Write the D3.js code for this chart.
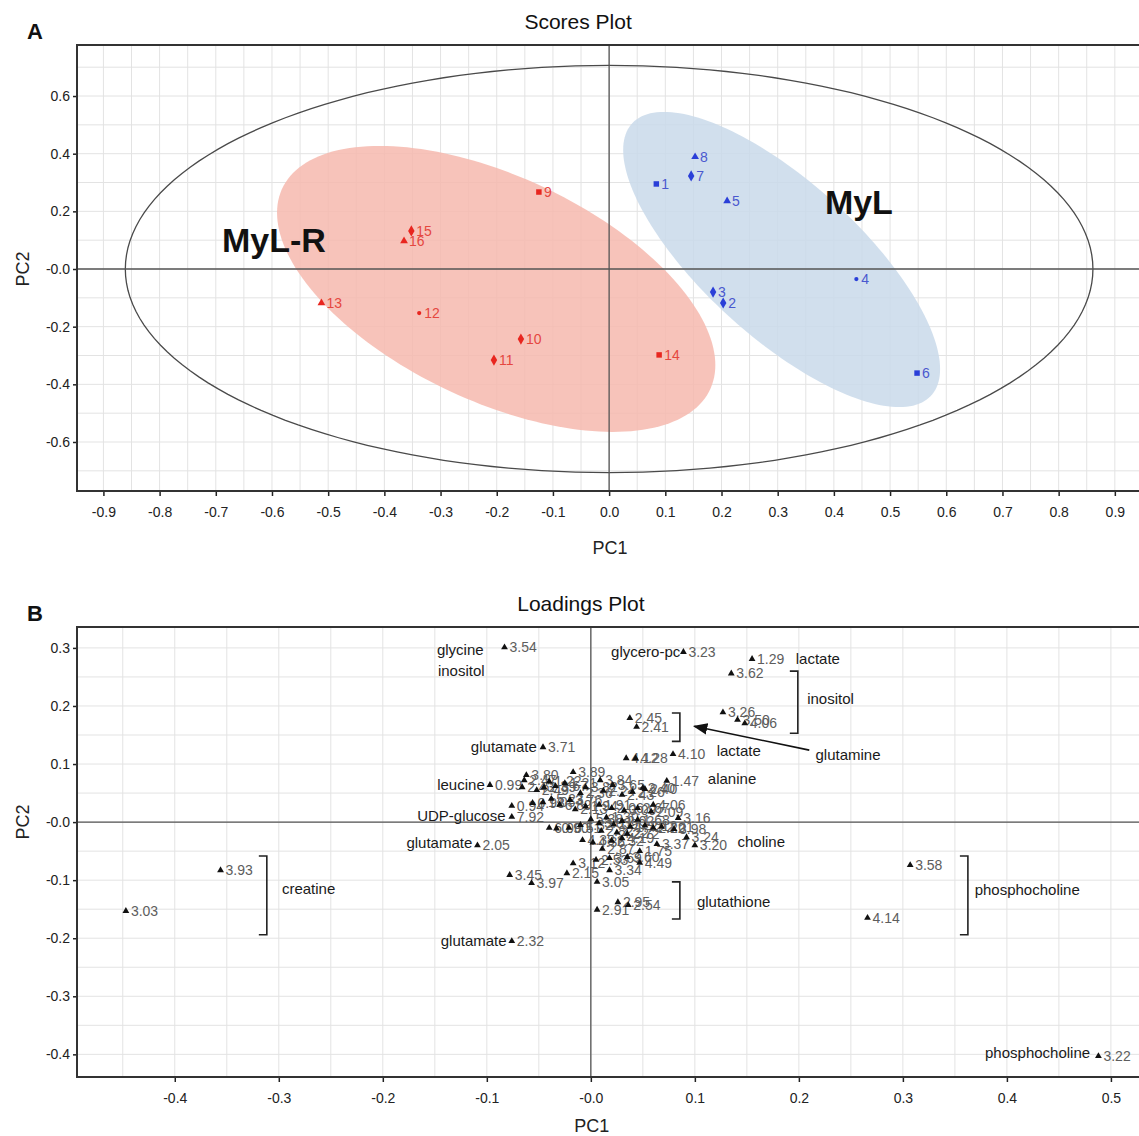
<!DOCTYPE html>
<html>
<head>
<meta charset="utf-8">
<script src="https://cdn.jsdelivr.net/npm/d3@7"></script>
<style>
  body { margin: 0; background: #fff; }
  text { font-family: "Liberation Sans", Arial, sans-serif; }
</style>
</head>
<body>
<svg id="chart" width="1139" height="1136"></svg>
<script>
// ---- scores plot data (PC1, PC2) ----
const mylIds    = ["1", "2", "3", "4", "5", "6", "7", "8"];
const mylPC1    = [0.084, 0.203, 0.185, 0.440, 0.210, 0.548, 0.146, 0.153];
const mylPC2    = [0.295, -0.118, -0.080, -0.035, 0.236, -0.361, 0.323, 0.389];
const mylShapes = ["square", "diamond", "diamond", "circle", "triangle", "square", "diamond", "triangle"];

const mylrIds    = ["9", "10", "11", "12", "13", "14", "15", "16"];
const mylrPC1    = [-0.125, -0.157, -0.205, -0.338, -0.512, 0.089, -0.352, -0.365];
const mylrPC2    = [0.267, -0.243, -0.316, -0.153, -0.118, -0.298, 0.132, 0.097];
const mylrShapes = ["square", "diamond", "diamond", "circle", "triangle", "square", "diamond", "triangle"];

// ellipses: centre PC1, centre PC2, half width, half height, correlation
const hotellingEllipse = [0, 0, 0.861, 0.706, 0];
const mylEllipse  = [0.307, 0.033, 0.282, 0.512, -0.742];
const mylrEllipse = [-0.201, -0.069, 0.390, 0.496, -0.532];

// group names: PC1, PC2, text
const groupNames = [[-0.689, 0.059, "MyL-R"], [0.384, 0.191, "MyL"]];

const scoreXTicks = [-0.9, -0.8, -0.7, -0.6, -0.5, -0.4, -0.3, -0.2, -0.1, 0, 0.1, 0.2, 0.3, 0.4, 0.5, 0.6, 0.7, 0.8, 0.9];
const scoreYTicks = [-0.6, -0.4, -0.2, 0, 0.2, 0.4, 0.6];

// ---- loadings plot data: PC1, PC2, ppm label ----
const loadings = [
  [-0.447, -0.153, "3.03"], [-0.356, -0.083, "3.93"],
  [-0.083, 0.301, "3.54"], [0.089, 0.293, "3.23"], [0.155, 0.281, "1.29"],
  [0.135, 0.256, "3.62"], [0.127, 0.189, "3.26"], [0.141, 0.176, "3.50"], [0.148, 0.170, "4.06"],
  [0.0375, 0.179, "2.45"], [0.044, 0.164, "2.41"],
  [0.034, 0.110, "4.12"], [0.043, 0.110, "4.28"], [0.079, 0.117, "4.10"],
  [-0.046, 0.129, "3.71"], [0.073, 0.071, "1.47"], [-0.097, 0.064, "0.99"],
  [-0.109, -0.040, "2.05"], [-0.076, -0.205, "2.32"],
  [0.307, -0.074, "3.58"], [0.266, -0.165, "4.14"], [0.488, -0.403, "3.22"],
  [-0.078, -0.091, "3.45"], [-0.057, -0.105, "3.97"], [-0.023, -0.088, "2.15"],
  [-0.017, -0.071, "3.12"], [0.006, -0.103, "3.05"], [0.018, -0.083, "3.34"],
  [0.006, -0.151, "2.91"], [0.026, -0.138, "2.95"], [0.036, -0.143, "2.54"],
  [0.005, -0.065, "2.53"], [0.018, -0.062, "3.69"], [0.035, -0.060, "3.60"], [0.047, -0.070, "4.49"],
  // dense centre
  [-0.062, 0.081, "3.80"], [-0.064, 0.072, "2.47"], [-0.066, 0.060, "2.43"], [-0.052, 0.055, "2.49"],
  [-0.040, 0.070, "1.22"], [-0.045, 0.060, "2.39"], [-0.034, 0.062, "3.67"], [-0.017, 0.086, "3.89"],
  [-0.025, 0.067, "1.21"], [0.009, 0.072, "3.84"], [0.021, 0.064, "3.65"], [0.050, 0.059, "2.40"],
  [0.052, 0.057, "2.40"], [0.040, 0.052, "2.26"], [0.030, 0.047, "2.43"], [0.012, 0.054, "2.24"],
  [-0.005, 0.060, "3.82"], [-0.010, 0.050, "2.36"],
  [-0.076, 0.028, "0.94"], [-0.076, 0.009, "7.92"], [-0.056, 0.033, "0.98"], [-0.046, 0.034, "1.05"],
  [-0.038, 0.040, "5.23"], [-0.030, 0.030, "6.89"], [-0.020, 0.038, "3.76"], [-0.015, 0.022, "2.13"],
  [-0.005, 0.027, "1.94"], [0.008, 0.030, "1.91"], [0.020, 0.024, "2.06"], [0.032, 0.020, "3.09"],
  [0.045, 0.024, "2.67"], [0.058, 0.018, "2.09"], [0.060, 0.030, "4.06"], [0.084, 0.007, "3.16"],
  [-0.040, -0.010, "6.09"], [-0.033, -0.011, "0.90"], [-0.021, -0.010, "6.51"], [-0.010, -0.005, "1.32"],
  [0.000, 0.005, "5.38"], [0.008, -0.002, "3.03"], [0.015, 0.008, "1.30"], [0.022, -0.004, "1.90"],
  [0.030, 0.002, "2.02"], [0.038, -0.008, "1.72"], [0.045, 0.004, "1.68"], [0.052, -0.006, "2.12"],
  [0.060, -0.010, "2.22"], [0.068, -0.008, "2.01"], [0.080, -0.012, "3.98"],
  [0.010, -0.015, "2.82"], [0.025, -0.018, "4.22"], [0.035, -0.020, "2.72"],
  [-0.008, -0.031, "4.38"], [0.011, -0.046, "2.87"], [0.047, -0.050, "1.75"], [0.0635, -0.038, "3.37"],
  [0.092, -0.026, "3.24"], [0.100, -0.040, "3.20"], [0.002, -0.035, "4.36"], [0.020, -0.032, "2.32"],
  [0.030, -0.028, "4.19"]
];

// metabolite names: PC1, PC2 of text baseline, text, anchor
const metaboliteNames = [
  [-0.148, 0.287, "glycine", "start"], [-0.147, 0.251, "inositol", "start"],
  [0.086, 0.284, "glycero-pc", "end"], [0.197, 0.272, "lactate", "start"],
  [0.208, 0.203, "inositol", "start"], [-0.052, 0.120, "glutamate", "end"],
  [0.121, 0.114, "lactate", "start"], [0.216, 0.107, "glutamine", "start"],
  [-0.102, 0.055, "leucine", "end"], [0.1125, 0.065, "alanine", "start"],
  [-0.082, 0.002, "UDP-glucose", "end"], [-0.114, -0.045, "glutamate", "end"],
  [0.141, -0.043, "choline", "start"], [-0.297, -0.124, "creatine", "start"],
  [0.102, -0.146, "glutathione", "start"], [0.369, -0.126, "phosphocholine", "start"],
  [-0.081, -0.213, "glutamate", "end"], [0.480, -0.406, "phosphocholine", "end"]
];

// brackets: PC1, top PC2, bottom PC2
const brackets = [
  [0.199, 0.260, 0.153], [0.0856, 0.188, 0.139], [0.0856, -0.103, -0.167],
  [-0.3115, -0.0585, -0.194], [0.3625, -0.0585, -0.194]
];
const glutamineArrow = [[0.210, 0.124], [0.0995, 0.165]];

const loadXTicks = [-0.4, -0.3, -0.2, -0.1, 0, 0.1, 0.2, 0.3, 0.4, 0.5];
const loadYTicks = [-0.4, -0.3, -0.2, -0.1, 0, 0.1, 0.2, 0.3];

// ---------------------------------------------------------------
const svg = d3.select("#chart");
const fmt = zeroText => v => Math.abs(v) < 1e-9 ? zeroText : (v < 0 ? "-" : "") + Math.abs(v).toFixed(1);
const steps = (a, b, s) => d3.range(Math.round(a / s), Math.round(b / s) + 1).map(i => +(i * s).toFixed(3));

svg.append("defs").append("marker")
  .attr("id", "arrowhead").attr("viewBox", "0 0 10 10")
  .attr("refX", 9).attr("refY", 5)
  .attr("markerWidth", 9).attr("markerHeight", 9)
  .attr("orient", "auto")
  .append("path").attr("d", "M0,1 L10,5 L0,9 Z").attr("fill", "#111");

const drawPanel = (x, y, o) => {
  const g = svg.append("g");
  const [x0, x1] = x.range();
  const [y1, y0] = y.range();

  // grid
  g.append("g").selectAll("line").data(o.gridX).join("line")
    .attr("x1", d => x(d)).attr("x2", d => x(d)).attr("y1", y0).attr("y2", y1)
    .attr("stroke", "#e3e3e3").attr("stroke-width", 1);
  g.append("g").selectAll("line").data(o.gridY).join("line")
    .attr("y1", d => y(d)).attr("y2", d => y(d)).attr("x1", x0).attr("x2", x1)
    .attr("stroke", "#e3e3e3").attr("stroke-width", 1);

  const layer = g.append("g");

  // crosshair
  g.append("line").attr("x1", x(0)).attr("x2", x(0)).attr("y1", y0).attr("y2", y1)
    .attr("stroke", "#555").attr("stroke-width", 1.3);
  g.append("line").attr("y1", y(0)).attr("y2", y(0)).attr("x1", x0).attr("x2", x1)
    .attr("stroke", "#555").attr("stroke-width", 1.3);

  // axes
  const ax = g.append("g").attr("transform", `translate(0,${y1})`);
  ax.call(d3.axisBottom(x).tickValues(o.gridX).tickSize(5).tickFormat(""));
  ax.call(d3.axisBottom(x).tickValues(o.xTicks).tickSize(5).tickPadding(11).tickFormat(fmt(o.xZero)));
  const ay = g.append("g").attr("transform", `translate(${x0},0)`);
  ay.call(d3.axisLeft(y).tickValues(o.minorY).tickSize(4).tickFormat(""));
  ay.call(d3.axisLeft(y).tickValues(o.yTicks).tickSize(4).tickPadding(3).tickFormat(fmt("-0.0")));
  g.selectAll(".domain").remove();
  g.selectAll(".tick line").attr("stroke", "#222").attr("stroke-width", 1.5);
  g.selectAll(".tick text").attr("font-size", 14).attr("fill", "#222")
    .attr("font-family", '"Liberation Sans", Arial, sans-serif');

  // frame
  g.append("path")
    .attr("d", `M${x1},${y0}H${x0}V${y1}H${x1}`)
    .attr("fill", "none").attr("stroke", "#333").attr("stroke-width", 2);

  // titles
  svg.append("text").attr("x", x(0) + o.titleShift).attr("y", y0 - 16)
    .attr("text-anchor", "middle").attr("font-size", 21).attr("fill", "#111").text(o.title);
  svg.append("text").attr("x", 27).attr("y", y0 - 6)
    .attr("font-size", 22).attr("font-weight", "bold").attr("fill", "#111").text(o.letter);
  svg.append("text").attr("x", x(0) + 1).attr("y", Math.min(y1 + 63, 1132))
    .attr("text-anchor", "middle").attr("font-size", 18).attr("fill", "#222").text("PC1");
  svg.append("text").attr("transform", `translate(29,${y(0)}) rotate(-90)`)
    .attr("text-anchor", "middle").attr("font-size", 18).attr("fill", "#222").text("PC2");
  return layer;
};

// ---------------- A: scores ----------------
const xA = d3.scaleLinear().domain([-0.947, 0.943]).range([77, 1139]);
const yA = d3.scaleLinear().domain([-0.770, 0.777]).range([491, 45]);

const layerA = drawPanel(xA, yA, {
  gridX: steps(-0.9, 0.9, 0.05), gridY: steps(-0.7, 0.7, 0.1), minorY: steps(-0.7, 0.7, 0.1),
  xTicks: scoreXTicks, yTicks: scoreYTicks, xZero: "0.0", title: "Scores Plot", letter: "A", titleShift: -31
});

const ellipsePath = (x, y, e) => {
  const [cx, cy, rx, ry, r] = e;
  const pts = d3.range(0, 361, 2).map(a => {
    const t = a * Math.PI / 180;
    return [cx + rx * Math.cos(t), cy + ry * (r * Math.cos(t) + Math.sqrt(1 - r * r) * Math.sin(t))];
  });
  return d3.line().x(d => x(d[0])).y(d => y(d[1]))(pts) + "Z";
};

layerA.append("path").attr("d", ellipsePath(xA, yA, mylrEllipse))
  .attr("fill", "#f6b8ae").attr("fill-opacity", 0.85);
layerA.append("path").attr("d", ellipsePath(xA, yA, mylEllipse))
  .attr("fill", "#c9d9ea").attr("fill-opacity", 0.85);
layerA.append("path").attr("d", ellipsePath(xA, yA, hotellingEllipse))
  .attr("fill", "none").attr("stroke", "#4a4a4a").attr("stroke-width", 1.3);

const symbolTypes = { square: d3.symbolSquare, diamond: d3.symbolDiamond, circle: d3.symbolCircle, triangle: d3.symbolTriangle };
const symbolSizes = { square: 30, diamond: 36, circle: 14, triangle: 26 };

const pointsA = svg.append("g");
const drawGroup = (ids, pc1, pc2, shapes, markColor, textColor) => {
  const rows = ids.map((id, i) => ({ id, x: pc1[i], y: pc2[i], s: shapes[i] }));
  pointsA.append("g").selectAll("path").data(rows).join("path")
    .attr("transform", d => `translate(${xA(d.x)},${yA(d.y)})`)
    .attr("d", d => d3.symbol().type(symbolTypes[d.s]).size(symbolSizes[d.s])())
    .attr("fill", markColor);
  pointsA.append("g").selectAll("text").data(rows).join("text")
    .attr("x", d => xA(d.x) + 5).attr("y", d => yA(d.y) + 5)
    .attr("font-size", 14).attr("fill", textColor).text(d => d.id);
};
drawGroup(mylIds, mylPC1, mylPC2, mylShapes, "#2a3fd8", "#4a58cf");
drawGroup(mylrIds, mylrPC1, mylrPC2, mylrShapes, "#e8261f", "#e5473f");

svg.append("g").selectAll("text").data(groupNames).join("text")
  .attr("x", d => xA(d[0])).attr("y", d => yA(d[1]))
  .attr("font-size", 34).attr("font-weight", "bold").attr("fill", "#111").text(d => d[2]);

// ---------------- B: loadings ----------------
const xB = d3.scaleLinear().domain([-0.494, 0.527]).range([77, 1139]);
const yB = d3.scaleLinear().domain([-0.439, 0.336]).range([1077, 627]);

drawPanel(xB, yB, {
  gridX: steps(-0.45, 0.5, 0.05), gridY: steps(-0.4, 0.3, 0.05), minorY: steps(-0.4, 0.3, 0.05),
  xTicks: loadXTicks, yTicks: loadYTicks, xZero: "-0.0", title: "Loadings Plot", letter: "B", titleShift: -10
});

const pointsB = svg.append("g");
pointsB.append("g").selectAll("text").data(loadings).join("text")
  .attr("x", d => xB(d[0]) + 5).attr("y", d => yB(d[1]) + 5)
  .attr("font-size", 14).attr("fill", "#5d5d5d").text(d => d[2]);
pointsB.append("g").selectAll("path").data(loadings).join("path")
  .attr("transform", d => `translate(${xB(d[0])},${yB(d[1])})`)
  .attr("d", d3.symbol().type(d3.symbolTriangle).size(20)())
  .attr("fill", "#111");

svg.append("g").selectAll("text").data(metaboliteNames).join("text")
  .attr("x", d => xB(d[0])).attr("y", d => yB(d[1]))
  .attr("text-anchor", d => d[3])
  .attr("font-size", 15).attr("fill", "#1a1a1a").text(d => d[2]);

svg.append("g").selectAll("path").data(brackets).join("path")
  .attr("d", d => `M${xB(d[0]) - 8},${yB(d[1])}H${xB(d[0])}V${yB(d[2])}H${xB(d[0]) - 8}`)
  .attr("fill", "none").attr("stroke", "#222").attr("stroke-width", 1.6);

svg.append("line")
  .attr("x1", xB(glutamineArrow[0][0])).attr("y1", yB(glutamineArrow[0][1]))
  .attr("x2", xB(glutamineArrow[1][0])).attr("y2", yB(glutamineArrow[1][1]))
  .attr("stroke", "#111").attr("stroke-width", 1.6).attr("marker-end", "url(#arrowhead)");
</script>
</body>
</html>
